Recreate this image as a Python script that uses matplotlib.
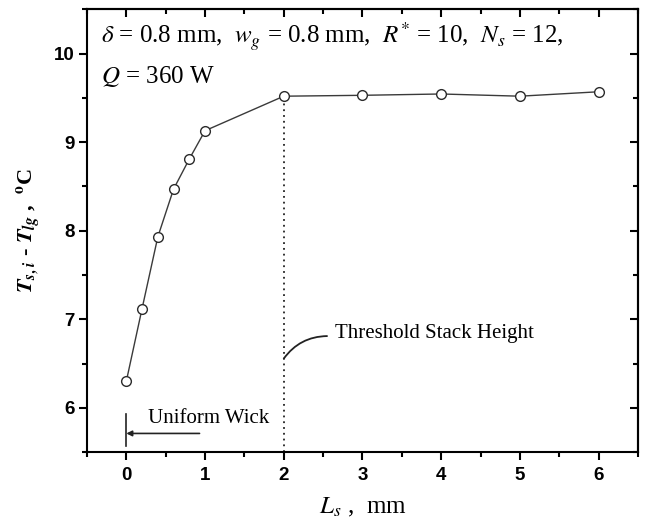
import numpy as np
import matplotlib
matplotlib.use("Agg")
import matplotlib.pyplot as plt
from matplotlib.ticker import MultipleLocator

# Stack height vs. interface temperature difference
stack_height = [0.0, 0.2, 0.4, 0.6, 0.8, 1.0, 2.0, 3.0, 4.0, 5.0, 6.0]
temp_diff = [6.30, 7.12, 7.93, 8.47, 8.81, 9.13, 9.52, 9.53, 9.545, 9.52, 9.57]

x_ticks = [0, 1, 2, 3, 4, 5, 6]
y_ticks = [6, 7, 8, 9, 10]
threshold_height = 2.0

header_line1 = r"$\delta$ = 0.8 mm,  $w_g$ = 0.8 mm,  $R^{*}$ = 10,  $N_s$ = 12,"
header_line2 = r"$Q$ = 360 W"

plt.rcParams['mathtext.fontset'] = 'stix'
serif = 'Liberation Serif'

fig = plt.figure(figsize=(6.49, 5.25), dpi=100)
ax = fig.add_axes([0.134, 0.139, 0.849, 0.843])

ax.plot(stack_height, temp_diff, color='#3a3a3a', lw=1.0, marker='o',
        markersize=7, markerfacecolor='white', markeredgecolor='#2a2a2a',
        markeredgewidth=1.0, zorder=3)

# dotted marker at the threshold stack height
thr_y = temp_diff[stack_height.index(threshold_height)]
ax.plot([threshold_height, threshold_height], [5.5, thr_y], color='#222222',
        lw=1.3, linestyle=(0, (1, 2.2)), zorder=2)

ax.set_xlim(-0.5, 6.5)
ax.set_ylim(5.5, 10.5)

ax.xaxis.set_major_locator(plt.FixedLocator(x_ticks))
ax.xaxis.set_minor_locator(MultipleLocator(0.5))
ax.yaxis.set_major_locator(plt.FixedLocator(y_ticks))
ax.yaxis.set_minor_locator(MultipleLocator(0.5))

ax.tick_params(which='both', direction='out', width=1.5, colors='black')
ax.tick_params(which='major', length=6)
ax.tick_params(which='minor', length=3.5)
ax.tick_params(axis='x', pad=5)
ax.tick_params(axis='y', pad=3)
for lbl in ax.get_xticklabels() + ax.get_yticklabels():
    lbl.set_fontfamily('Liberation Sans')
    lbl.set_fontweight('bold')
    lbl.set_fontsize(13.5)

for sp in ax.spines.values():
    sp.set_linewidth(1.5)

# mirrored inward ticks on top and right
top = ax.secondary_xaxis('top')
top.xaxis.set_major_locator(plt.FixedLocator(x_ticks))
top.xaxis.set_minor_locator(MultipleLocator(0.5))
top.tick_params(which='both', direction='in', width=1.5, labeltop=False)
top.tick_params(which='major', length=6)
top.tick_params(which='minor', length=3.5)
top.spines['top'].set_linewidth(1.5)

right = ax.secondary_yaxis('right')
right.yaxis.set_major_locator(plt.FixedLocator(y_ticks))
right.yaxis.set_minor_locator(MultipleLocator(0.5))
right.tick_params(which='both', direction='in', width=1.5, labelright=False)
right.tick_params(which='major', length=6)
right.tick_params(which='minor', length=3.5)
right.spines['right'].set_linewidth(1.5)

ax.set_xlabel(r"$L_s$ ,  mm", family=serif, fontsize=18, labelpad=8)
ax.set_ylabel(r"$\mathbfit{T}_{\mathbfit{s,i}}$ - $\mathbfit{T}_{\mathbfit{lg}}$ ,  $^{\mathbf{o}}$C",
              family=serif, fontweight='bold', fontsize=16, labelpad=8)

ax.text(0.025, 0.938, header_line1, transform=ax.transAxes, family=serif,
        fontsize=18, va='center', ha='left')
ax.text(0.025, 0.848, header_line2, transform=ax.transAxes, family=serif,
        fontsize=18, va='center', ha='left')

# uniform wick marker
ax.plot([0, 0], [5.57, 5.93], color='#222222', lw=1.2)
ax.annotate('', xy=(0.0, 5.71), xytext=(0.93, 5.71),
            arrowprops=dict(arrowstyle='-|>', color='#222222', lw=1.2,
                            mutation_scale=8, shrinkA=0, shrinkB=0))
ax.text(0.27, 5.875, 'Uniform Wick', family=serif, fontsize=15,
        va='center', ha='left')

# threshold callout
ax.annotate('', xy=(threshold_height, 6.555), xytext=(2.55, 6.81),
            arrowprops=dict(arrowstyle='-', color='#222222', lw=1.3,
                            shrinkA=0, shrinkB=0,
                            connectionstyle='arc3,rad=0.25'))
ax.text(2.65, 6.84, 'Threshold Stack Height', family=serif, fontsize=15,
        va='center', ha='left')

fig.savefig('out.png', dpi=100)
